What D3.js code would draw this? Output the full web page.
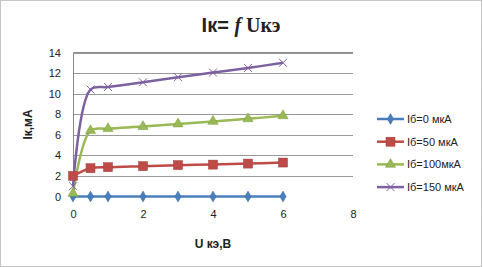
<!DOCTYPE html>
<html>
<head>
<meta charset="utf-8">
<script src="https://cdn.jsdelivr.net/npm/d3@7"></script>
<style>
  body { margin: 0; background: #fff; }
  svg { display: block; }
</style>
</head>
<body>
<svg id="chart"></svg>
<script>
const w = 483;
const h = 267;

// data
const uce = [0, 0.5, 1, 2, 3, 4, 5, 6];
const seriesNames = ['Iб=0 мкА', 'Iб=50 мкА', 'Iб=100мкА', 'Iб=150 мкА'];
const ib0 = [0, 0, 0, 0, 0, 0, 0, 0];
const ib50 = [2.0, 2.75, 2.85, 2.95, 3.05, 3.1, 3.2, 3.3];
const ib100 = [0.3, 6.4, 6.6, 6.8, 7.05, 7.3, 7.55, 7.85];
const ib150 = [1.0, 10.4, 10.65, 11.1, 11.6, 12.05, 12.5, 13.0];
const xTicks = [0, 2, 4, 6, 8];
const yTicks = [0, 2, 4, 6, 8, 10, 12, 14];

const colors = ['#4a7ebb', '#be4b48', '#98b954', '#7d60a0'];
const allSeries = [ib0, ib50, ib100, ib150];

const plot = { left: 73, right: 353, top: 52.5, bottom: 196.5 };

let canvas = d3.select('#chart').attr('width', w).attr('height', h);

// outer frame
canvas.append('rect')
  .attr('x', 0.5).attr('y', 0.5)
  .attr('width', w - 2).attr('height', h - 1)
  .attr('fill', 'none')
  .attr('stroke', '#888')
  .attr('stroke-dasharray', '1,1');

let xScale = d3.scaleLinear().domain([0, 8]).range([plot.left, plot.right]);
let yScale = d3.scaleLinear().domain([0, 14]).range([plot.bottom, plot.top]);

// gridlines
canvas.append('g')
  .selectAll('line')
  .data(yTicks.filter(d => d > 0))
  .enter()
  .append('line')
  .attr('x1', plot.left).attr('x2', plot.right)
  .attr('y1', d => Math.round(yScale(d)) + 0.5)
  .attr('y2', d => Math.round(yScale(d)) + 0.5)
  .attr('stroke', '#9a9a9a')
  .attr('stroke-width', 1);

// plot border (left and top)
canvas.append('path')
  .attr('d', `M${plot.left + 0.5},${plot.bottom}V${plot.top}H${plot.right}`)
  .attr('fill', 'none')
  .attr('stroke', '#888');

// axes
let xAxis = d3.axisBottom(xScale).tickValues(xTicks).tickSize(0).tickPadding(14);
let yAxis = d3.axisLeft(yScale).tickValues(yTicks).tickSize(0).tickPadding(12);

let gx = canvas.append('g')
  .attr('transform', `translate(0,${plot.bottom})`)
  .call(xAxis);
let gy = canvas.append('g')
  .attr('transform', `translate(${plot.left},0)`)
  .call(yAxis);
[gx, gy].forEach(g => {
  g.select('.domain').remove();
  g.selectAll('text')
    .attr('font-family', 'Liberation Sans, Arial, sans-serif')
    .attr('font-size', 11)
    .attr('fill', '#222');
});

// lines
let line = d3.line()
  .x((d, i) => xScale(uce[i]))
  .y(d => yScale(d))
  .curve(d3.curveCatmullRom.alpha(0.5));

canvas.append('g')
  .selectAll('path')
  .data(allSeries)
  .enter()
  .append('path')
  .attr('d', d => line(d))
  .attr('fill', 'none')
  .attr('stroke', (d, i) => colors[i])
  .attr('stroke-width', 2.5);

// markers
const drawMarker = (g, k, color) => {
  if (k === 0) {
    g.append('path').attr('d', d3.symbol(d3.symbolDiamond, 34)())
      .attr('fill', color).attr('stroke', '#3b6aa8').attr('stroke-width', 0.5);
  } else if (k === 1) {
    g.append('rect').attr('x', -4.5).attr('y', -4.5).attr('width', 9).attr('height', 9)
      .attr('fill', color).attr('stroke', '#a03c3a').attr('stroke-width', 0.5);
  } else if (k === 2) {
    g.append('path').attr('d', d3.symbol(d3.symbolTriangle, 45)())
      .attr('fill', color).attr('stroke', '#7c9c40').attr('stroke-width', 0.5);
  } else {
    g.append('path').attr('d', 'M-4,-4L4,4M-4,4L4,-4')
      .attr('stroke', color).attr('stroke-width', 1);
  }
};

allSeries.forEach((s, k) => {
  canvas.append('g')
    .selectAll('g')
    .data(s)
    .enter()
    .append('g')
    .attr('transform', (d, i) => `translate(${xScale(uce[i])},${yScale(d)})`)
    .each(function () { drawMarker(d3.select(this), k, colors[k]); });
});

// legend
const legendX = 377;
const legendY = 119;
const legendStep = 22.7;
seriesNames.forEach((name, k) => {
  let g = canvas.append('g').attr('transform', `translate(${legendX},${legendY + k * legendStep})`);
  g.append('line').attr('x1', 0).attr('x2', 27).attr('stroke', colors[k]).attr('stroke-width', 2.5);
  let m = g.append('g').attr('transform', 'translate(13.5,0)');
  drawMarker(m, k, colors[k]);
  g.append('text')
    .attr('x', 30).attr('y', 4)
    .attr('font-family', 'Liberation Sans, Arial, sans-serif')
    .attr('font-size', 11)
    .attr('fill', '#222')
    .text(name);
});

// title
let title = canvas.append('text')
  .attr('x', 241).attr('y', 32)
  .attr('text-anchor', 'middle')
  .attr('font-size', 20)
  .attr('font-weight', 'bold')
  .attr('fill', '#222');
title.append('tspan').attr('font-family', 'Liberation Sans, Arial, sans-serif').text('Iк= ');
title.append('tspan').attr('font-family', 'Liberation Serif, Times New Roman, serif').attr('font-style', 'italic').text('f');
title.append('tspan').attr('font-family', 'Liberation Serif, Times New Roman, serif').text(' Uкэ');

// axis titles
canvas.append('text')
  .attr('transform', `translate(32,${(plot.top + plot.bottom) / 2}) rotate(-90)`)
  .attr('text-anchor', 'middle')
  .attr('font-family', 'Liberation Sans, Arial, sans-serif')
  .attr('font-size', 12)
  .attr('font-weight', 'bold')
  .attr('fill', '#222')
  .text('Iк,мА');

canvas.append('text')
  .attr('x', 213).attr('y', 248)
  .attr('text-anchor', 'middle')
  .attr('font-family', 'Liberation Sans, Arial, sans-serif')
  .attr('font-size', 12)
  .attr('font-weight', 'bold')
  .attr('fill', '#222')
  .text('U кэ,B');
</script>
</body>
</html>
